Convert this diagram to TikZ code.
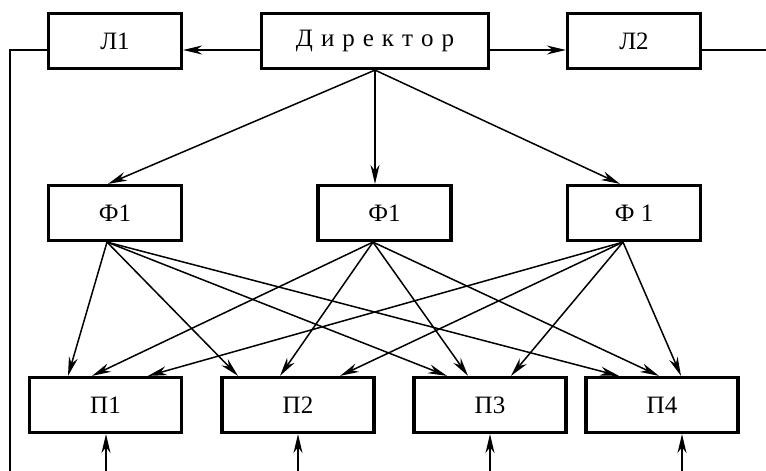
\documentclass[tikz,border=0pt]{standalone}
\usepackage{fontspec}
\setmainfont{Liberation Serif}
\usetikzlibrary{arrows.meta,calc}
\begin{document}
\begin{tikzpicture}[x=1pt,y=-1pt,
 box/.style={draw,line width=3.2pt,minimum width=133pt,minimum height=55pt,inner sep=0pt,font=\fontsize{25}{27}\selectfont},
 pbox/.style={box,minimum width=152pt},
 arr/.style={line width=1.5pt,-{Stealth[length=19pt,width=9pt,inset=6pt]}},
 ln/.style={line width=1.5pt}]
\useasboundingbox (0,0) rectangle (766,471);
% top row
\node[box] (l1) at (115,41) {Л1};
\node[box,minimum width=227pt] (dir) at (375,41) {Д\hspace{8pt}и\hspace{8pt}р\hspace{8pt}е\hspace{8pt}к\hspace{8pt}т\hspace{8pt}о\hspace{8pt}р};
\node[box] (l2) at (634,41) {Л2};
% middle row
\node[box] (f1) at (115,213) {Ф1};
\node[box] (f2) at (384.5,213) {Ф1};
\node[box] (f3) at (634,213) {Ф 1};
% bottom row
\node[pbox] (p1) at (105.5,405) {П1};
\node[pbox] (p2) at (298,405) {П2};
\node[pbox] (p3) at (490,405) {П3};
\node[pbox] (p4) at (662,405) {П4};
% free ends
\coordinate (lb) at (10,471);
\coordinate (re) at (766,50);
\coordinate (b1) at (106,471);
\coordinate (b2) at (298,471);
\coordinate (b3) at (490,471);
\coordinate (b4) at (682,471);
% apexes
\coordinate (da) at (dir.south);
\coordinate (f1a) at ($(f1.south)+(-8,0)$);
\coordinate (f2a) at ($(f2.south)+(-11.5,0)$);
\coordinate (f3a) at ($(f3.south)+(-11,0)$);
% top connectors
\draw[arr] ($(dir.west)+(0,9)$) -- ($(l1.east)+(0,9)$);
\draw[arr] ($(dir.east)+(0,9)$) -- ($(l2.west)+(0,9)$);
\draw[ln] ($(l1.west)+(0,9)$) -| (lb);
\draw[ln] ($(l2.east)+(0,9)$) -- (re);
% director to F
\draw[arr] (da) -- ($(f1.north)+(-7,0)$);
\draw[arr] (da) -- ($(f2.north)+(-9.5,0)$);
\draw[arr] (da) -- ($(f3.north)+(-14,0)$);
% F to P
\draw[arr] (f1a) -- ($(p1.north)+(-37.5,0)$);
\draw[arr] (f2a) -- ($(p1.north)+(-13.5,0)$);
\draw[arr] (f3a) -- ($(p1.north)+(42.5,0)$);
\draw[arr] (f1a) -- ($(p2.north)+(-60,0)$);
\draw[arr] (f2a) -- ($(p2.north)+(-18,0)$);
\draw[arr] (f3a) -- ($(p2.north)+(42,0)$);
\draw[arr] (f1a) -- ($(p3.north)+(-43,0)$);
\draw[arr] (f2a) -- ($(p3.north)+(-22,0)$);
\draw[arr] (f3a) -- ($(p3.north)+(21,0)$);
\draw[arr] (f1a) -- ($(p4.north)+(-43,0)$);
\draw[arr] (f2a) -- ($(p4.north)+(-3,0)$);
\draw[arr] (f3a) -- ($(p4.north)+(19,0)$);
% bottom inputs
\draw[arr] (b1) -- (b1 |- p1.south);
\draw[arr] (b2) -- (b2 |- p2.south);
\draw[arr] (b3) -- (b3 |- p3.south);
\draw[arr] (b4) -- (b4 |- p4.south);
\end{tikzpicture}
\end{document}
